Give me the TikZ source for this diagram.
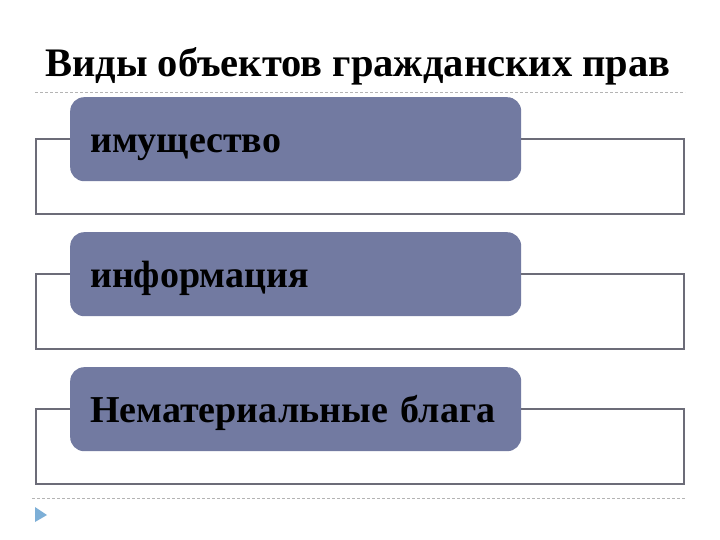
\documentclass[tikz,border=0pt]{standalone}
\usepackage{fontspec}
\setmainfont{Liberation Serif}
\usetikzlibrary{calc}
\definecolor{boxfill}{RGB}{114,122,161}
\definecolor{framegray}{RGB}{108,108,120}
\definecolor{rulegray}{RGB}{180,180,180}
\definecolor{markblue}{RGB}{125,175,215}

\begin{document}
\begin{tikzpicture}[x=1pt,y=-1pt,
    objbox/.style={fill=boxfill, rounded corners=14pt, minimum width=451pt, minimum height=84pt,
      text width=411pt, text height=30pt, text depth=4pt, inner xsep=20pt, align=left,
      anchor=north west, font=\bfseries\fontsize{38}{40}\selectfont},
    frameline/.style={draw=framegray, line width=2.5pt},
    sepline/.style={draw=rulegray, dash pattern=on 3pt off 2pt, line width=0.7pt}]
  \fill[white] (0,0) rectangle (720,540);
  \useasboundingbox (0,0) rectangle (720,540);

  %%%%% title %%%%%
  \node[anchor=base west, inner sep=0pt, font=\bfseries\fontsize{40.5}{42}\selectfont] (title) at (45,77) {Виды объектов гражданских прав};
  \draw[sepline] (35,92) -- (685,92);

  %%%%% boxes %%%%%
  \node[objbox] (box1) at (70,97) {имущество};
  \node[objbox] (box2) at (70,232) {информация};
  \node[objbox] (box3) at (70,367) {Нематериальные блага};

  \foreach \b in {box1,box2,box3}
    \draw[frameline] (\b.west) -- ++(-34,0) -- ++(0,75) -- ++(648,0) -- ++(0,-75) -- (\b.east);

  %%%%% bottom %%%%%
  \draw[sepline] (32,498) -- (685,498);
  \fill[markblue] (35,507) -- (47,515) -- (35,522) -- cycle;
\end{tikzpicture}
\end{document}
